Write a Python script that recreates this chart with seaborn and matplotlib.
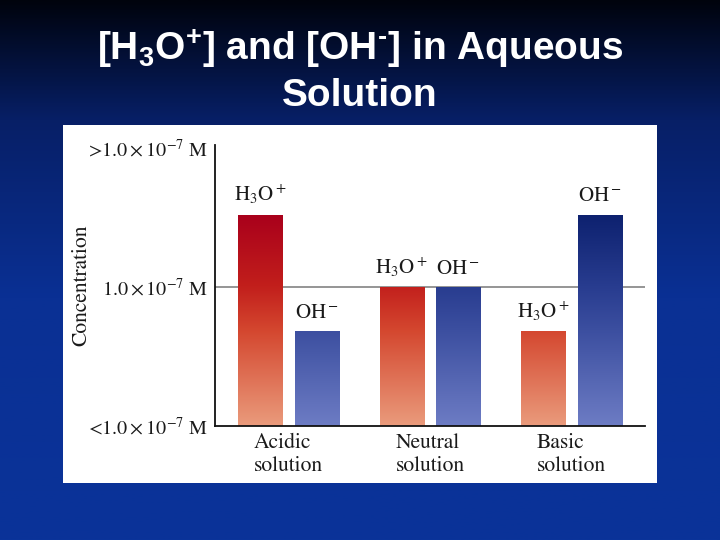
import matplotlib

matplotlib.use("Agg")  # no display
import matplotlib.pyplot as plt
import numpy as np
import pandas as pd
import seaborn as sns
from matplotlib.colors import LinearSegmentedColormap
from matplotlib.patches import Rectangle

# values (relative scale: 1.0 = 1.0 x 10^-7 M)
solutions = ["Acidic\nsolution", "Neutral\nsolution", "Basic\nsolution"]
ions = ["H3O+", "OH-"]
h3o_level = [1.52, 1.0, 0.68]
oh_level = [0.68, 1.0, 1.52]
ion_labels = {"H3O+": r"$\mathrm{H_3O^+}$", "OH-": r"$\mathrm{OH^-}$"}
ytick_values = [0, 1, 2]
ytick_labels = [
    r"<$1.0 \times 10^{-7}$ M",
    r"$1.0 \times 10^{-7}$ M",
    r">$1.0 \times 10^{-7}$ M",
]

sns.set_style("white")
plt.rcParams["font.family"] = ["STIXGeneral", "DejaVu Serif"]
plt.rcParams["mathtext.fontset"] = "stix"
plt.rcParams["mathtext.bf"] = "Liberation Sans:bold"
plt.rcParams["mathtext.rm"] = "Liberation Sans:bold"

df = pd.DataFrame(
    {
        "solution": solutions * 2,
        "ion": [ions[0]] * 3 + [ions[1]] * 3,
        "level": h3o_level + oh_level,
    }
)

fig = plt.figure(figsize=(7.2, 5.4), dpi=100)

# slide background
bg = fig.add_axes([0, 0, 1, 1], zorder=-5)
bg_cmap = LinearSegmentedColormap.from_list(
    "slide", [(0.0, "#0a3399"), (0.45, "#0a3094"), (0.78, "#071f66"), (1.0, "#00030d")]
)
bg.imshow(np.linspace(0, 1, 256).reshape(-1, 1), cmap=bg_cmap, origin="lower",
          aspect="auto", extent=(0, 1, 0, 1))
bg.add_patch(Rectangle((63 / 720, 1 - 483 / 540), 594 / 720, 358 / 540,
                       facecolor="white", edgecolor="none"))
bg.set_xlim(0, 1)
bg.set_ylim(0, 1)
bg.axis("off")

fig.text(0.5, 1 - 60 / 540,
         r"[H$_\mathbf{3}$O$^\mathbf{+}$] and [OH$^\mathrm{\text{-}}$] in Aqueous",
         ha="center", va="baseline", color="white", fontsize=28,
         family="Liberation Sans", weight="bold", math_fontfamily="custom")
fig.text(0.5, 1 - 106 / 540, "Solution", ha="center", va="baseline", color="white",
         fontsize=28, family="Liberation Sans", weight="bold")

ax = fig.add_axes([215 / 720, 1 - 426 / 540, 430 / 720, 281 / 540])
ax.set_facecolor("none")

sns.barplot(data=df, x="solution", y="level", hue="ion", order=solutions,
            hue_order=ions, gap=0.22, errorbar=None, legend=False, ax=ax)

red_cmap = LinearSegmentedColormap.from_list(
    "red", [(0.0, "#ea9b7c"), (0.45, "#d4472f"), (0.66, "#c21f1c"), (1.0, "#a9001b")]
)
blue_cmap = LinearSegmentedColormap.from_list(
    "blue", [(0.0, "#6d7cc4"), (0.45, "#3c4fa0"), (0.66, "#283c8f"), (1.0, "#0d216f")]
)
grad = np.linspace(0, 1, 256).reshape(-1, 1)
top = max(h3o_level + oh_level)

for i, p in enumerate(ax.patches):
    ion = ions[i // len(solutions)]
    x0, w, h = p.get_x(), p.get_width(), p.get_height()
    cmap = red_cmap if ion == "H3O+" else blue_cmap
    im = ax.imshow(grad, cmap=cmap, origin="lower", aspect="auto",
                   extent=(x0, x0 + w, 0, top), zorder=2, interpolation="bilinear")
    im.set_clip_path(p)
    p.set_facecolor("none")
    p.set_edgecolor("none")
    ax.text(x0 + w / 2, h + 0.06, ion_labels[ion], ha="center", va="bottom",
            fontsize=15, color="#1a1a1a")

ax.axhline(1.0, color="#8c8c8c", lw=1.3, zorder=1.5)

ax.set_xlim(-0.52, 2.52)
ax.set_ylim(0, 2.02)
ax.set_yticks(ytick_values)
ax.set_yticklabels(ytick_labels, fontsize=14.5, color="#1a1a1a")
ax.set_xticks(range(len(solutions)))
ax.set_xticklabels(solutions, fontsize=15.5, color="#1a1a1a", linespacing=1.25)
for lbl in ax.get_xticklabels():
    lbl.set_multialignment("left")
ax.tick_params(length=0)
ax.tick_params(axis="y", pad=5)
ax.tick_params(axis="x", pad=5)
ax.set_xlabel("")
ax.set_ylabel("Concentration", fontsize=15.5, color="#1a1a1a")
ax.yaxis.set_label_coords(-0.288, 0.5)

for side in ["top", "right"]:
    ax.spines[side].set_visible(False)
for side in ["left", "bottom"]:
    ax.spines[side].set_color("#111111")
    ax.spines[side].set_linewidth(1.3)

plt.savefig("out.png", dpi=100)
